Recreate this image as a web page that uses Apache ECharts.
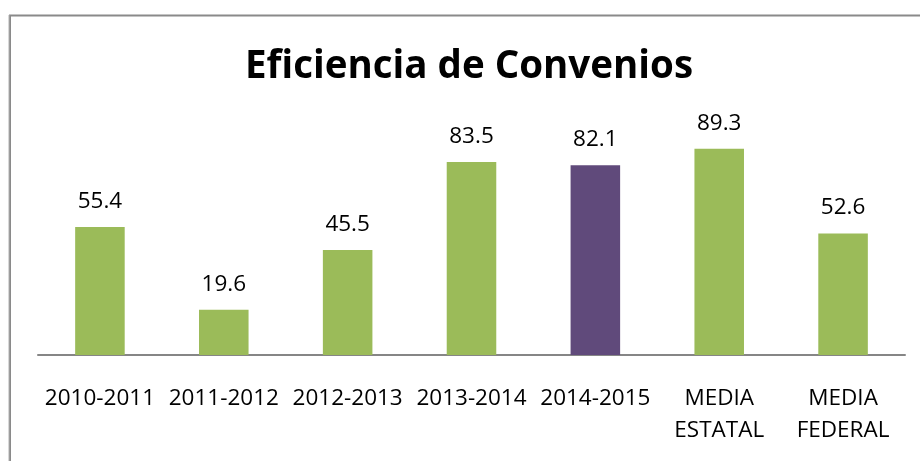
<!DOCTYPE html>
<html>
<head>
<meta charset="utf-8">
<script src="https://cdn.jsdelivr.net/npm/echarts@6/dist/echarts.min.js"></script>
<style>
  html, body { margin: 0; padding: 0; background: #fff; }
  #chart { width: 920px; height: 461px; }
</style>
</head>
<body>
<div id="chart"></div>
<script>
const categories = ["2010-2011", "2011-2012", "2012-2013", "2013-2014", "2014-2015", "MEDIA\nESTATAL", "MEDIA\nFEDERAL"];
const values = [55.4, 19.6, 45.5, 83.5, 82.1, 89.3, 52.6];
const highlightIndex = 4; // periodo actual en morado

const chart = echarts.init(document.getElementById("chart"));

chart.setOption({
  backgroundColor: "#fff",
  textStyle: { fontFamily: "Open Sans" },
  title: {
    text: "Eficiencia de Convenios",
    left: 464,
    textAlign: "center",
    top: 43,
    textStyle: { fontFamily: "Open Sans", fontWeight: "bold", fontSize: 38.5, color: "#000" }
  },
  graphic: [
    {
      // marco del gráfico
      type: "rect",
      shape: { x: 10, y: 15.5, width: 1000, height: 1000 },
      style: { fill: "none", stroke: "#8a8a8a", lineWidth: 2 },
      silent: true
    },
    {
      type: "line",
      shape: { x1: 9, y1: 15, x2: 9, y2: 461 },
      style: { stroke: "#b0b0b0", lineWidth: 1 },
      silent: true
    }
  ],
  grid: { left: 38, right: 15, top: 124, bottom: 106 },
  xAxis: {
    type: "category",
    data: categories,
    axisTick: { show: false },
    axisLine: { lineStyle: { color: "#868686", width: 2 } },
    axisLabel: {
      color: "#000",
      fontSize: 22.5,
      lineHeight: 32,
      margin: 28,
      interval: 0
    }
  },
  yAxis: {
    type: "value",
    min: 0,
    max: 100,
    show: false,
    splitLine: { show: false }
  },
  series: [
    {
      type: "bar",
      barWidth: "40%",
      data: values.map((v, i) => ({
        value: v,
        itemStyle: { color: i === highlightIndex ? "#604A7B" : "#9BBB59" }
      })),
      label: {
        show: true,
        position: "top",
        distance: 14,
        color: "#000",
        fontSize: 22.5
      }
    }
  ]
});
</script>
</body>
</html>
